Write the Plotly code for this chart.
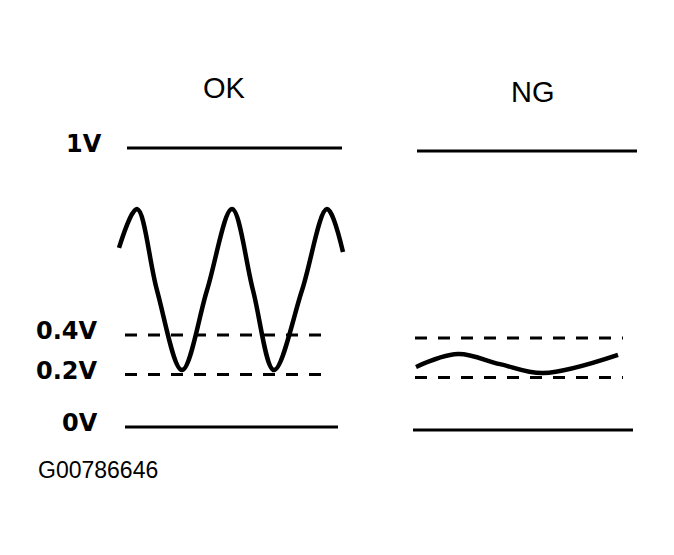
import plotly.graph_objects as go

# ---------------- data ----------------
level_labels = ["1V", "0.4V", "0.2V", "0V"]
level_pos = [1.0, 0.33, 0.188, 0.0]          # diagram position of each reference level
level_dashed = [False, True, True, False]

# reference-line time spans (start, end) for each level, per panel
ok_spans = [(27, 242), (25, 227), (25, 227), (25, 238)]
ng_spans = [(17, 237), (15, 223), (15, 223), (13, 233)]

# OK sensor waveform
ok_t = [19, 37, 57, 82, 107, 132, 153, 174, 202, 227, 243]
ok_v = [0.642, 0.781, 0.49, 0.204, 0.49, 0.781, 0.49, 0.204, 0.49, 0.781, 0.627]

# NG sensor waveform
ng_t = [16, 58, 100, 143, 218]
ng_v = [0.226, 0.272, 0.236, 0.204, 0.269]

panel_titles = ["OK", "NG"]
caption = "G00786646"

# ---------------- figure ----------------
OFF = 8                      # page body margin
W, H = 674 - OFF, 555 - OFF
fig = go.Figure()

def add_panel(xa, ya, spans, t, v):
    for pos, dashed, (a, b) in zip(level_pos, level_dashed, spans):
        fig.add_trace(go.Scatter(
            x=[a, b], y=[pos, pos], mode="lines", xaxis=xa, yaxis=ya,
            line=dict(color="black", width=3, dash="12px,11px" if dashed else "solid"),
            hoverinfo="skip", showlegend=False))
    fig.add_trace(go.Scatter(
        x=t, y=v, mode="lines", xaxis=xa, yaxis=ya,
        line=dict(color="black", width=4.5, shape="spline", smoothing=1.0),
        hoverinfo="skip", showlegend=False))

add_panel("x", "y", ok_spans, ok_t, ok_v)
add_panel("x2", "y2", ng_spans, ng_t, ng_v)

def fx(px):
    return (px - OFF) / W

def fy(py):
    return 1 - (py - OFF) / H

unit = 279.0  # pixels per diagram unit
y0_ok, y0_ng = 427 - OFF, 430 - OFF
yr_ok = [-(H - y0_ok) / unit, y0_ok / unit]
yr_ng = [-(H - y0_ng) / unit, y0_ng / unit]

ax_common = dict(visible=False, showgrid=False, zeroline=False, fixedrange=True)
fig.update_layout(
    width=W, height=H,
    margin=dict(l=0, r=0, t=0, b=0),
    paper_bgcolor="white", plot_bgcolor="rgba(0,0,0,0)",
    xaxis=dict(domain=[fx(100), fx(350)], range=[0, 250], **ax_common),
    xaxis2=dict(domain=[fx(400), fx(650)], range=[0, 250], **ax_common),
    yaxis=dict(domain=[0, 1], range=yr_ok, **ax_common),
    yaxis2=dict(domain=[0, 1], range=yr_ng, anchor="x2", **ax_common),
    showlegend=False,
)

FONT = "Liberation Sans, Arial, sans-serif"
LABEL_FONT = "DejaVu Sans, Liberation Sans, sans-serif"
ann = []
# panel titles
for title, px, py in zip(panel_titles, [224, 533], [88, 92]):
    ann.append(dict(text=title, x=fx(px), y=fy(py), xref="paper", yref="paper",
                    xanchor="center", yanchor="middle", showarrow=False,
                    font=dict(family=FONT, size=29, color="black")))
# level labels
for lab, pos in zip(level_labels, level_pos):
    right = 104 if lab == "1V" else 100
    ann.append(dict(text="<b>%s</b>" % lab, x=fx(right), y=pos, xref="paper", yref="y",
                    xanchor="right", yanchor="middle", yshift=4, showarrow=False,
                    font=dict(family=LABEL_FONT, size=24, color="black")))
# caption
ann.append(dict(text=caption, x=fx(36), y=fy(470), xref="paper", yref="paper",
                xanchor="left", yanchor="middle", showarrow=False,
                font=dict(family=FONT, size=23, color="black")))
fig.update_layout(annotations=ann)

fig.write_html("out.html")
